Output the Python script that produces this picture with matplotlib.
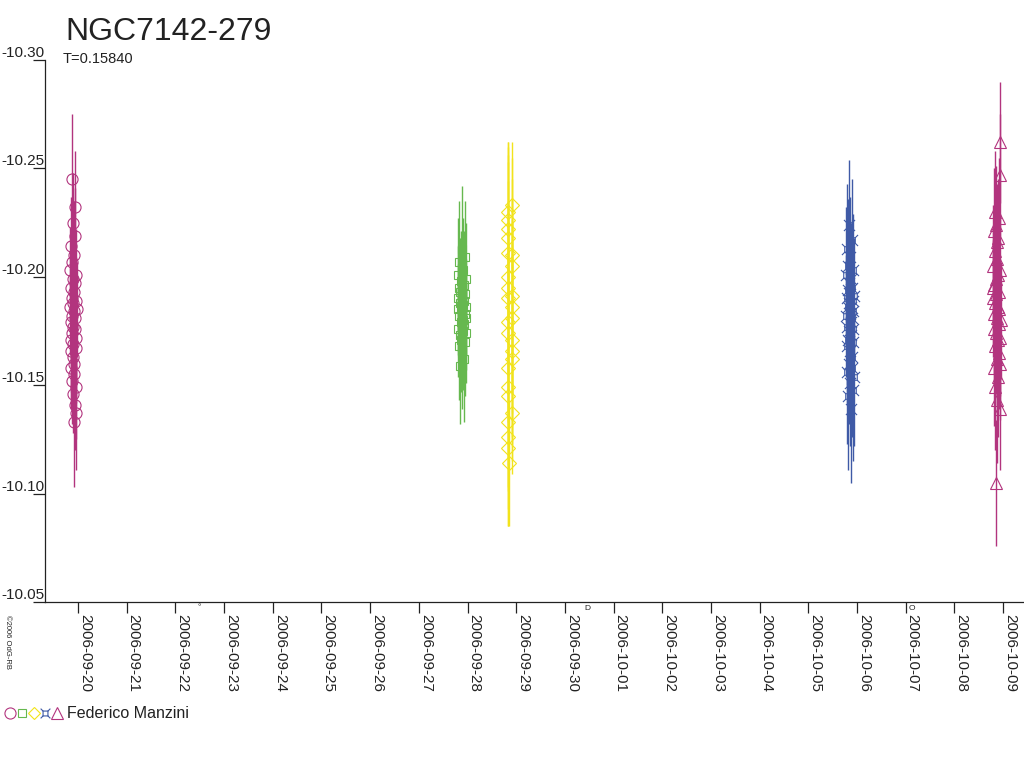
import datetime as dt
import matplotlib
matplotlib.use("Agg")
import matplotlib.pyplot as plt
import matplotlib.dates as mdates
from matplotlib.path import Path
from matplotlib.lines import Line2D

plt.rcParams['font.family'] = ['Liberation Sans', 'DejaVu Sans']
plt.rcParams['axes.unicode_minus'] = False

# Session 1: 2006-09-19 evening, circles
s1_date = dt.datetime(2006, 9, 19)
s1_t = [0.840, 0.843, 0.847, 0.850, 0.853, 0.857, 0.860, 0.863, 0.867, 0.870,
        0.873, 0.877, 0.880, 0.883, 0.887, 0.890, 0.893, 0.897, 0.900, 0.903,
        0.907, 0.910, 0.913, 0.917, 0.920, 0.923, 0.927, 0.930, 0.933, 0.937,
        0.940, 0.943, 0.947, 0.950, 0.953, 0.957, 0.960, 0.963, 0.967, 0.970]
s1_mag = [-10.186, -10.203, -10.171, -10.158, -10.195, -10.214, -10.179, -10.166, -10.245, -10.190,
          -10.152, -10.182, -10.207, -10.174, -10.163, -10.199, -10.146, -10.188, -10.225, -10.169,
          -10.177, -10.210, -10.160, -10.193, -10.133, -10.184, -10.155, -10.232, -10.176, -10.197,
          -10.141, -10.181, -10.219, -10.167, -10.189, -10.149, -10.201, -10.172, -10.137, -10.185]
s1_err = [0.022, 0.020, 0.024, 0.019, 0.021, 0.023, 0.018, 0.025, 0.030, 0.022,
          0.020, 0.026, 0.019, 0.021, 0.024, 0.022, 0.018, 0.027, 0.023, 0.020,
          0.021, 0.025, 0.019, 0.022, 0.030, 0.024, 0.020, 0.026, 0.018, 0.023,
          0.021, 0.019, 0.022, 0.025, 0.020, 0.024, 0.021, 0.018, 0.026, 0.022]

# Session 2: 2006-09-27, squares
s2_date = dt.datetime(2006, 9, 27)
s2_t = [0.800, 0.805, 0.810, 0.815, 0.820, 0.825, 0.830, 0.835, 0.840, 0.845,
        0.850, 0.855, 0.860, 0.865, 0.870, 0.875, 0.880, 0.885, 0.890, 0.895,
        0.900, 0.905, 0.910, 0.915, 0.920, 0.925, 0.930, 0.935, 0.940, 0.945,
        0.950, 0.955, 0.960, 0.965, 0.970, 0.975]
s2_mag = [-10.190, -10.176, -10.201, -10.185, -10.168, -10.195, -10.182, -10.207, -10.173, -10.188,
          -10.159, -10.193, -10.179, -10.198, -10.186, -10.171, -10.213, -10.184, -10.191, -10.165,
          -10.180, -10.203, -10.187, -10.175, -10.196, -10.162, -10.189, -10.178, -10.209, -10.183,
          -10.170, -10.192, -10.181, -10.199, -10.174, -10.186]
s2_err = [0.024, 0.022, 0.026, 0.021, 0.025, 0.023, 0.027, 0.028, 0.022, 0.024,
          0.027, 0.025, 0.021, 0.023, 0.026, 0.024, 0.029, 0.022, 0.025, 0.026,
          0.023, 0.024, 0.022, 0.027, 0.025, 0.029, 0.021, 0.024, 0.026, 0.023,
          0.025, 0.022, 0.024, 0.026, 0.023, 0.022]

# Session 3: 2006-09-28, diamonds
s3_date = dt.datetime(2006, 9, 28)
s3_t = [0.826, 0.906, 0.827, 0.828, 0.829, 0.830, 0.907, 0.908, 0.831, 0.832,
        0.909, 0.833, 0.910, 0.911, 0.834, 0.835, 0.912, 0.913, 0.914, 0.836,
        0.837, 0.838, 0.915, 0.839, 0.840, 0.841, 0.842]
s3_mag = [-10.230, -10.233, -10.226, -10.222, -10.218, -10.211, -10.210, -10.205, -10.200, -10.195,
          -10.191, -10.190, -10.186, -10.181, -10.179, -10.174, -10.171, -10.166, -10.162, -10.158,
          -10.149, -10.145, -10.137, -10.133, -10.126, -10.121, -10.114]
s3_err = [0.030, 0.029, 0.036, 0.040, 0.038, 0.042, 0.045, 0.040, 0.044, 0.040,
          0.045, 0.042, 0.040, 0.044, 0.046, 0.041, 0.045, 0.043, 0.047, 0.045,
          0.048, 0.042, 0.028, 0.040, 0.041, 0.036, 0.029]

# Session 4: 2006-10-05, crossed squares
s4_date = dt.datetime(2006, 10, 5)
s4_t = [0.780, 0.784, 0.788, 0.792, 0.796, 0.800, 0.804, 0.808, 0.812, 0.816,
        0.820, 0.824, 0.828, 0.832, 0.836, 0.840, 0.844, 0.848, 0.852, 0.856,
        0.860, 0.864, 0.868, 0.872, 0.876, 0.880, 0.884, 0.888, 0.892, 0.896,
        0.900, 0.904, 0.908, 0.912, 0.916, 0.920, 0.924, 0.928, 0.932, 0.936]
s4_mag = [-10.182, -10.201, -10.168, -10.190, -10.156, -10.213, -10.177, -10.194, -10.145, -10.186,
          -10.171, -10.205, -10.160, -10.188, -10.224, -10.175, -10.197, -10.151, -10.183, -10.209,
          -10.166, -10.192, -10.179, -10.139, -10.199, -10.173, -10.186, -10.158, -10.217, -10.181,
          -10.163, -10.195, -10.176, -10.148, -10.189, -10.170, -10.203, -10.184, -10.154, -10.191]
s4_err = [0.028, 0.031, 0.026, 0.029, 0.033, 0.030, 0.027, 0.032, 0.034, 0.029,
          0.026, 0.031, 0.028, 0.030, 0.030, 0.027, 0.032, 0.029, 0.031, 0.028,
          0.030, 0.027, 0.033, 0.034, 0.026, 0.029, 0.031, 0.032, 0.028, 0.030,
          0.027, 0.031, 0.029, 0.033, 0.028, 0.030, 0.026, 0.029, 0.032, 0.027]

# Session 5: 2006-10-08, triangles
s5_date = dt.datetime(2006, 10, 8)
s5_t = [0.795, 0.799, 0.803, 0.807, 0.811, 0.815, 0.819, 0.823, 0.827, 0.831,
        0.835, 0.839, 0.843, 0.847, 0.851, 0.855, 0.859, 0.863, 0.867, 0.871,
        0.875, 0.879, 0.883, 0.887, 0.891, 0.895, 0.899, 0.903, 0.907, 0.911,
        0.915, 0.919, 0.923, 0.927, 0.931, 0.935, 0.939, 0.943, 0.947, 0.951]
s5_mag = [-10.190, -10.195, -10.205, -10.176, -10.221, -10.158, -10.196, -10.183, -10.230, -10.168,
          -10.212, -10.149, -10.188, -10.199, -10.174, -10.224, -10.105, -10.192, -10.162, -10.208,
          -10.181, -10.143, -10.216, -10.186, -10.171, -10.218, -10.201, -10.154, -10.193, -10.178,
          -10.227, -10.165, -10.185, -10.139, -10.203, -10.172, -10.247, -10.160, -10.262, -10.180]
s5_err = [0.027, 0.026, 0.028, 0.025, 0.029, 0.027, 0.026, 0.028, 0.028, 0.027,
          0.026, 0.029, 0.027, 0.025, 0.028, 0.027, 0.029, 0.026, 0.028, 0.027,
          0.025, 0.029, 0.027, 0.026, 0.028, 0.027, 0.026, 0.028, 0.025, 0.027,
          0.028, 0.026, 0.027, 0.028, 0.026, 0.027, 0.028, 0.026, 0.028, 0.027]

tick_dates = [dt.datetime(2006, 9, 20) + dt.timedelta(days=i) for i in range(20)]
y_ticks = [-10.30, -10.25, -10.20, -10.15, -10.10, -10.05]

moon_dates = [dt.datetime(2006, 9, 22, 11, 45), dt.datetime(2006, 9, 30, 11, 4), dt.datetime(2006, 10, 7, 3, 13)]
moon_syms = ['\u00b0', 'D', 'O']

observer = 'Federico Manzini'

magenta = '#B2347E'
green = '#66B84F'
yellow = '#F2E31B'
blue = '#3F5AA6'

# crossed square marker
cross_sq = Path([(-0.5, -0.5), (0.5, -0.5), (0.5, 0.5), (-0.5, 0.5), (-0.5, -0.5),
                 (-0.5, -0.5), (-1, -1), (0.5, -0.5), (1, -1), (0.5, 0.5), (1, 1), (-0.5, 0.5), (-1, 1)],
                [Path.MOVETO, Path.LINETO, Path.LINETO, Path.LINETO, Path.CLOSEPOLY,
                 Path.MOVETO, Path.LINETO, Path.MOVETO, Path.LINETO, Path.MOVETO, Path.LINETO, Path.MOVETO, Path.LINETO])

sessions = [
    (s1_date, s1_t, s1_mag, s1_err, magenta, 'o', 8),
    (s2_date, s2_t, s2_mag, s2_err, green, 's', 6),
    (s3_date, s3_t, s3_mag, s3_err, yellow, 'D', 7.5),
    (s4_date, s4_t, s4_mag, s4_err, blue, cross_sq, 8),
    (s5_date, s5_t, s5_mag, s5_err, magenta, '^', 9),
]

fig = plt.figure(figsize=(10.24, 7.68), dpi=100)
ax = fig.add_axes([45 / 1024, 1 - 602 / 768, 1 - 45 / 1024, (602 - 60) / 768])

for d, t, m, e, col, mk, ms in sessions:
    x = [mdates.date2num(d) + ti for ti in t]
    ax.errorbar(x, m, yerr=e, fmt='none', ecolor=col, elinewidth=1.0, capsize=0)
    ax.plot(x, m, linestyle='none', marker=mk, markersize=ms, markerfacecolor='none',
            markeredgecolor=col, markeredgewidth=0.8)

x0 = mdates.date2num(tick_dates[0])
ax.set_xlim(x0 - 0.678, mdates.date2num(tick_dates[19]) + 0.43)
ax.set_ylim(-10.05, -10.30)

ax.set_xticks([mdates.date2num(d) for d in tick_dates])
ax.set_xticklabels([d.strftime('%Y-%m-%d') for d in tick_dates], rotation=-90,
                   ha='left', va='top', fontsize=11)
ax.set_yticks(y_ticks)
ax.set_yticklabels(['%.2f' % v for v in y_ticks], fontsize=11)
for lbl in ax.get_yticklabels():
    lbl.set_va('bottom')
ax.tick_params(axis='x', direction='out', length=8, width=0.9, pad=1, colors='#222222')
ax.tick_params(axis='y', direction='out', length=9, width=0.9, pad=-9, colors='#222222')

for s in ['top', 'right']:
    ax.spines[s].set_visible(False)
for s in ['left', 'bottom']:
    ax.spines[s].set_linewidth(0.9)
    ax.spines[s].set_color('#222222')

# moon phases just under the axis
for d, sym in zip(moon_dates, moon_syms):
    ax.text(mdates.date2num(d), -0.005, sym, transform=ax.get_xaxis_transform(),
            ha='center', va='top', fontsize=6, color='#222222')

fig.text(65 / 1024, 1 - 40 / 768, 'NGC7142-279', fontsize=23, color='#222222')
fig.text(63 / 1024, 1 - 63 / 768, 'T=0.15840', fontsize=10.5, color='#222222')
fig.text(4 / 1024, 1 - 615 / 768, '\u00a92006 OdG-RB', rotation=-90, fontsize=5.5,
         ha='left', va='top', color='#222222')

# legend row
leg_y = 1 - 713 / 768
for xp, col, mk, ms in [(10, magenta, 'o', 8), (22, green, 's', 6), (34, yellow, 'D', 6.5),
                        (45, blue, cross_sq, 7), (57, magenta, '^', 8)]:
    fig.add_artist(Line2D([xp / 1024], [leg_y], transform=fig.transFigure, marker=mk,
                          markersize=ms, markerfacecolor='none', markeredgecolor=col,
                          markeredgewidth=0.8, linestyle='none'))
fig.text(67 / 1024, leg_y, observer, fontsize=11.5, va='center', color='#222222')

fig.savefig('out.png', dpi=100)
